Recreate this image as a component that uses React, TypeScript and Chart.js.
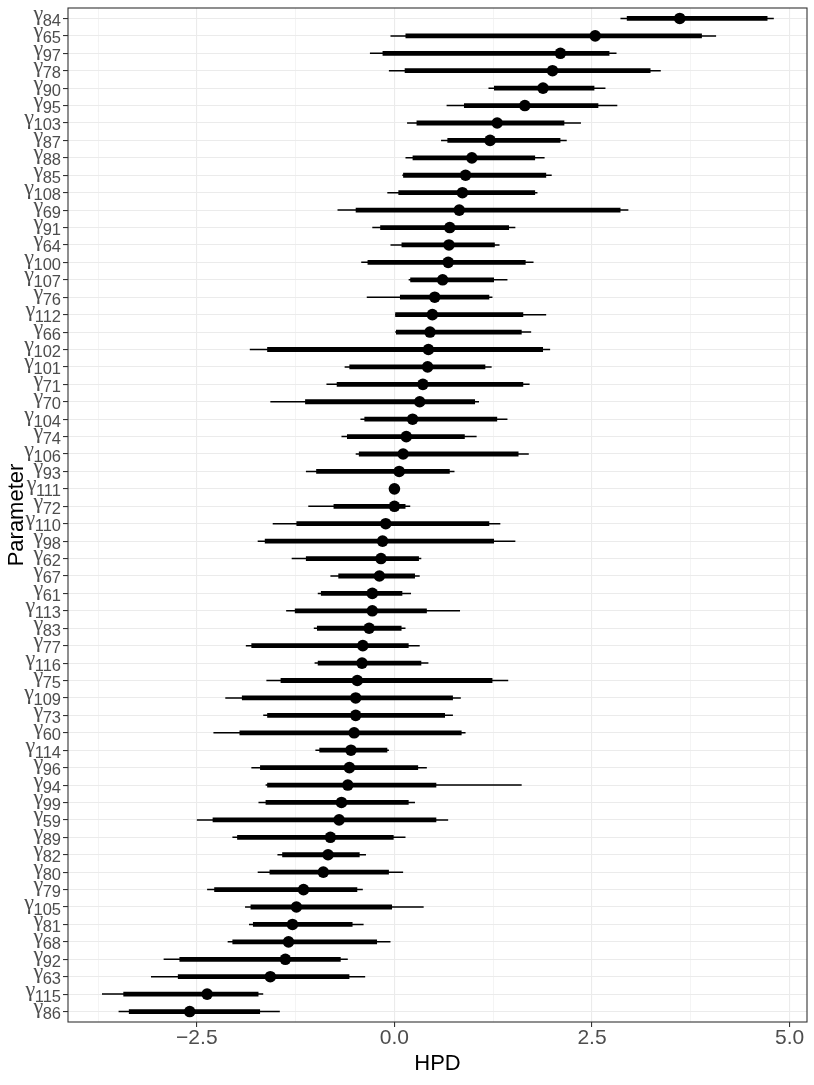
import React, { useEffect, useRef } from "react";
import { Chart, registerables } from "chart.js";

Chart.register(...registerables);

const params = ["84","65","97","78","90","95","103","87","88","85","108","69","91","64","100","107","76","112","66","102","101","71","70","104","74","106","93","111","72","110","98","62","67","61","113","83","77","116","75","109","73","60","114","96","94","99","59","89","82","80","79","105","81","68","92","63","115","86"];

const est = [3.61,2.54,2.10,2.00,1.88,1.65,1.30,1.21,0.98,0.90,
0.86,0.82,0.70,0.69,0.68,0.61,0.51,0.48,0.45,0.43,
0.42,0.36,0.32,0.23,0.15,0.11,0.06,0.00,0.00,-0.11,
-0.15,-0.17,-0.19,-0.28,-0.28,-0.32,-0.40,-0.41,-0.47,-0.49,
-0.49,-0.51,-0.55,-0.57,-0.59,-0.67,-0.70,-0.81,-0.84,-0.90,
-1.15,-1.24,-1.29,-1.34,-1.38,-1.57,-2.37,-2.59];

const innerLo = [2.94,0.14,-0.15,0.13,1.26,0.88,0.28,0.67,0.23,0.11,
0.05,-0.49,-0.18,0.09,-0.34,0.20,0.07,0.01,0.02,-1.61,
-0.57,-0.73,-1.13,-0.38,-0.60,-0.45,-0.99,0.00,-0.77,-1.24,
-1.64,-1.12,-0.71,-0.93,-1.26,-0.98,-1.81,-0.97,-1.44,-1.93,
-1.61,-1.96,-0.95,-1.70,-1.61,-1.63,-2.30,-1.99,-1.42,-1.58,
-2.28,-1.82,-1.79,-2.05,-2.72,-2.74,-3.43,-3.36];

const innerHi = [4.72,3.89,2.72,3.24,2.53,2.58,2.15,2.10,1.78,1.92,
1.78,2.86,1.45,1.27,1.66,1.26,1.20,1.63,1.61,1.88,
1.15,1.63,1.02,1.30,0.89,1.57,0.70,0.00,0.14,1.20,
1.26,0.31,0.26,0.10,0.41,0.09,0.18,0.34,1.24,0.74,
0.64,0.85,-0.09,0.30,0.53,0.18,0.53,-0.01,-0.44,-0.07,
-0.47,-0.03,-0.53,-0.22,-0.68,-0.57,-1.72,-1.70];

const outerLo = [2.86,-0.05,-0.31,-0.07,1.19,0.66,0.16,0.59,0.14,0.10,
-0.09,-0.72,-0.28,-0.05,-0.42,0.18,-0.35,0.01,0.01,-1.83,
-0.63,-0.86,-1.57,-0.43,-0.67,-0.49,-1.12,0.00,-1.09,-1.54,
-1.73,-1.30,-0.81,-0.97,-1.37,-1.02,-1.88,-1.01,-1.62,-2.14,
-1.66,-2.29,-1.00,-1.81,-1.63,-1.72,-2.50,-2.05,-1.48,-1.73,
-2.37,-1.89,-1.84,-2.11,-2.92,-3.08,-3.70,-3.49];

const outerHi = [4.80,4.07,2.81,3.37,2.67,2.82,2.36,2.18,1.90,1.99,
1.81,2.96,1.53,1.33,1.76,1.43,1.24,1.92,1.73,1.97,
1.23,1.71,1.07,1.43,1.04,1.70,0.76,0.00,0.20,1.34,
1.53,0.34,0.32,0.21,0.83,0.14,0.32,0.43,1.44,0.84,
0.74,0.90,-0.07,0.41,1.61,0.26,0.68,0.14,-0.36,0.11,
-0.40,0.37,-0.39,-0.05,-0.59,-0.37,-1.66,-1.45];

const xTicks = [-3.75, -2.5, -1.25, 0, 1.25, 2.5, 3.75, 5];
const majorX = [-2.5, 0, 2.5, 5];

const FONT = "'Liberation Sans', Arial, Helvetica, sans-serif";
const SERIF = "'Liberation Serif', 'DejaVu Serif', serif";
const isMajor = (v: number) => majorX.some((m) => Math.abs(m - v) < 1e-6);

function segments(lo: number[], hi: number[]) {
  const out: any[] = [];
  lo.forEach((l, i) => {
    out.push({ x: l, y: i + 1 });
    out.push({ x: hi[i], y: i + 1 });
    out.push({ x: null, y: null });
  });
  return out;
}

const borderPlugin = {
  id: "panelBorder",
  afterDatasetsDraw(chart: any) {
    const { ctx, chartArea } = chart;
    ctx.save();
    ctx.strokeStyle = "#333333";
    ctx.lineWidth = 1.1;
    ctx.strokeRect(chartArea.left, chartArea.top, chartArea.right - chartArea.left, chartArea.bottom - chartArea.top);
    ctx.restore();
  },
};

// y tick labels drawn as plotmath-like gamma with subscript index
const gammaLabels = {
  id: "gammaLabels",
  afterDraw(chart: any) {
    const { ctx } = chart;
    const y = chart.scales.y;
    const right = y.right - 5 - 2;
    ctx.save();
    ctx.fillStyle = "#4D4D4D";
    ctx.textBaseline = "alphabetic";
    y.ticks.forEach((t: any) => {
      const i = Math.round(t.value) - 1;
      const sub = params[i];
      if (sub === undefined) return;
      const py = y.getPixelForValue(t.value);
      ctx.font = `16.5px ${FONT}`;
      const w = ctx.measureText(sub).width;
      ctx.textAlign = "right";
      ctx.fillText(sub, right, py + 7.5);
      ctx.font = `22px ${SERIF}`;
      ctx.fillText("γ", right - w + 0.5, py + 1.5);
    });
    ctx.restore();
  },
};

export default function App() {
  const ref = useRef<HTMLCanvasElement>(null);
  useEffect(() => {
    const canvas = ref.current!;
    const chart = new Chart(canvas, {
      type: "scatter",
      data: {
        datasets: [
          {
            label: "estimate",
            data: est.map((v, i) => ({ x: v, y: i + 1 })),
            pointRadius: 5.8,
            pointHoverRadius: 5.8,
            pointBackgroundColor: "#000000",
            pointBorderWidth: 0,
            showLine: false,
            order: 0,
          },
          {
            label: "inner",
            data: segments(innerLo, innerHi),
            showLine: true,
            spanGaps: false,
            borderColor: "#000000",
            borderWidth: 4.8,
            borderCapStyle: "butt",
            pointRadius: 0,
            order: 1,
          },
          {
            label: "outer",
            data: segments(outerLo, outerHi),
            showLine: true,
            spanGaps: false,
            borderColor: "#000000",
            borderWidth: 1.5,
            borderCapStyle: "butt",
            pointRadius: 0,
            order: 2,
          },
        ] as any,
      },
      plugins: [borderPlugin, gammaLabels],
      options: {
        animation: false,
        responsive: false,
        events: [],
        layout: { padding: { top: 8, right: 7, left: 0, bottom: 0 } },
        plugins: { legend: { display: false }, tooltip: { enabled: false } },
        scales: {
          x: {
            type: "linear",
            min: -4.13,
            max: 5.22,
            afterBuildTicks: (scale: any) => {
              scale.ticks = xTicks.map((v) => ({ value: v }));
            },
            afterFit: (scale: any) => {
              scale.height = 63;
              scale.paddingLeft = 0;
              scale.paddingRight = 0;
            },
            border: { display: false },
            grid: {
              color: "#EBEBEB",
              lineWidth: (ctx: any) => (ctx.tick && isMajor(ctx.tick.value) ? 1.1 : 0.55),
              tickColor: (ctx: any) => (ctx.tick && isMajor(ctx.tick.value) ? "#333333" : "rgba(0,0,0,0)"),
              tickLength: 5,
              tickWidth: 1.1,
            },
            ticks: {
              autoSkip: false,
              maxRotation: 0,
              padding: 1,
              color: "#4D4D4D",
              font: { family: FONT, size: 21, lineHeight: 1 },
              callback: (v: any) => {
                const n = Number(v);
                if (!isMajor(n)) return "";
                return n < 0 ? "\u2212" + Math.abs(n).toFixed(1) : n.toFixed(1);
              },
            },
            title: {
              display: true,
              text: "HPD",
              color: "#000000",
              font: { family: FONT, size: 22 },
              padding: { top: 0, bottom: 8 },
            },
          },
          y: {
            type: "linear",
            reverse: true,
            min: 0.4,
            max: 58.6,
            afterBuildTicks: (scale: any) => {
              scale.ticks = params.map((_, i) => ({ value: i + 1 }));
            },
            afterFit: (scale: any) => {
              scale.width = 68;
              scale.paddingTop = 0;
              scale.paddingBottom = 0;
            },
            border: { display: false },
            grid: {
              color: "#EBEBEB",
              lineWidth: 1.1,
              tickColor: "#333333",
              tickLength: 5,
              tickWidth: 1.1,
            },
            ticks: {
              display: false,
              autoSkip: false,
            },
            title: {
              display: true,
              text: "Parameter",
              color: "#000000",
              font: { family: FONT, size: 22 },
              padding: { top: 4, bottom: 0 },
            },
          },
        },
      } as any,
    });
    return () => chart.destroy();
  }, []);
  return (
    <div style={{ position: "absolute", left: 0, top: 0, width: 814, height: 1085 }}>
      <canvas ref={ref} width={814} height={1085} style={{ width: 814, height: 1085, display: "block" }} />
    </div>
  );
}
